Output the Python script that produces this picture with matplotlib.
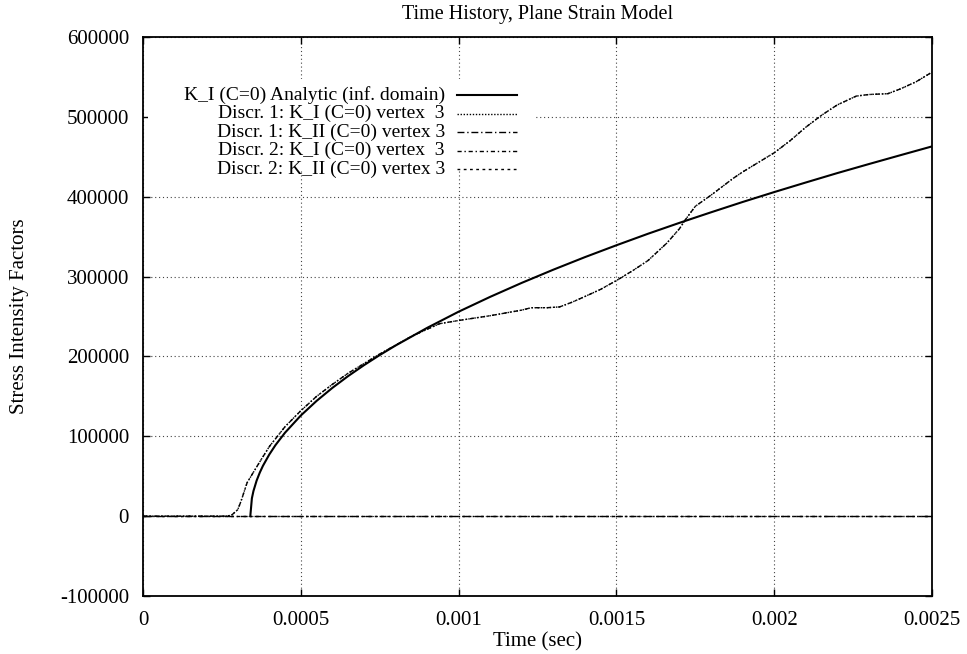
import matplotlib
matplotlib.use('Agg')
from matplotlib import pyplot as plt
from matplotlib.patches import Rectangle

# analytic K_I (inf. domain)
t_analytic = [0.00034, 0.000345, 0.00035, 0.00036, 0.00037, 0.00038, 0.0004, 0.00042,
              0.00045, 0.0005, 0.00055, 0.0006, 0.00065, 0.0007, 0.00075,
              0.0008, 0.0009, 0.001, 0.0011, 0.0012, 0.0013, 0.0014, 0.0015,
              0.0016, 0.0017, 0.0018, 0.0019, 0.002, 0.0021, 0.0022, 0.0023,
              0.0024, 0.0025]
k_analytic = [0, 22300, 31500, 44500, 54500, 63000, 77100, 89100,
              104500, 126000, 144300, 160600, 175400, 189000, 201700,
              213600, 235700, 256000, 274600, 292100, 308600, 324300, 339200,
              353600, 367300, 380500, 393400, 405800, 417800, 429600, 440900,
              452000, 463000]

# numerical K_I (discr. 1 and 2 overlap)
t_num = [0.0, 0.0002, 0.00026, 0.00028, 0.0003, 0.00031, 0.00032, 0.00033,
         0.00035, 0.00037, 0.0004, 0.00045, 0.0005, 0.00055, 0.0006, 0.00065,
         0.0007, 0.00075, 0.0008, 0.00085, 0.0009, 0.00094, 0.001, 0.0011,
         0.0012, 0.00123, 0.00128, 0.00132, 0.00136, 0.0014, 0.00145, 0.0015,
         0.00155, 0.0016, 0.00163, 0.00166, 0.0017, 0.00172, 0.00175, 0.0018,
         0.00187, 0.0019, 0.00195, 0.002, 0.00205, 0.0021, 0.00215, 0.0022,
         0.00226, 0.0023, 0.00236, 0.0024, 0.00245, 0.0025]
k1_num = [0, 0, 0, 1000, 8000, 18000, 30000, 42000,
          55000, 68000, 87000, 112000, 132000, 150000, 165000, 179000,
          191000, 203000, 214000, 225000, 234000, 241000, 245000, 251000,
          258000, 261000, 261000, 262000, 268000, 275000, 284000, 295000,
          307000, 320000, 331000, 342000, 360000, 372000, 388000, 402000,
          423000, 431000, 443000, 455000, 470000, 487000, 502000, 515000,
          526000, 528000, 529000, 535000, 544000, 556000]
k2_num = [0] * len(t_num)

labels = ['K_I (C=0) Analytic (inf. domain)',
          'Discr. 1: K_I (C=0) vertex  3',
          'Discr. 1: K_II (C=0) vertex 3',
          'Discr. 2: K_I (C=0) vertex  3',
          'Discr. 2: K_II (C=0) vertex 3']
styles = [dict(ls='-', lw=1.5),
          dict(ls=(0, (1, 1.2)), lw=1.0),
          dict(ls=(0, (5, 2, 1, 2)), lw=1.0),
          dict(ls=(0, (3, 2, 1, 2)), lw=1.0),
          dict(ls=(0, (2, 2.5)), lw=1.0)]

plt.rcParams['font.family'] = ['Liberation Serif', 'DejaVu Serif']
plt.rcParams['font.size'] = 15

fig = plt.figure(figsize=(9.67, 6.54), dpi=100)
ax = fig.add_axes([143 / 967, 1 - 596 / 654, (932 - 143) / 967, (596 - 37) / 654])

series = [(t_analytic, k_analytic), (t_num, k1_num), (t_num, k2_num),
          (t_num, k1_num), (t_num, k2_num)]
for (x, y), st in zip(series, styles):
    ax.plot(x, y, color='black', zorder=3, **st)

ax.set_xlim(0, 0.0025)
ax.set_ylim(-100000, 600000)
xticks = [0, 0.0005, 0.001, 0.0015, 0.002, 0.0025]
ax.set_xticks(xticks)
ax.set_xticklabels(['%g' % v for v in xticks])
yticks = list(range(-100000, 600001, 100000))
ax.set_yticks(yticks)
ax.set_yticklabels([str(v) for v in yticks])
ax.tick_params(direction='in', length=5, width=1, top=True, right=True,
               pad=10)
ax.tick_params(axis='x', pad=10.5)
ax.grid(True, color='#444444', ls=(0, (1, 2.5)), lw=0.8)
for s in ax.spines.values():
    s.set_linewidth(1.3)

ax.set_title('Time History, Plane Strain Model', fontsize=14.5, pad=13)
ax.set_xlabel('Time (sec)', labelpad=2)
ax.set_ylabel('Stress Intensity Factors', labelpad=22)

# gnuplot-style key: text right aligned, sample on the right
ax.add_patch(Rectangle((0.006, 0.76), 0.49, 0.165, transform=ax.transAxes,
                       facecolor='white', edgecolor='none', zorder=2))
y0 = (596 - 95) / 559
dy = 18.5 / 559
for i, (lab, st) in enumerate(zip(labels, styles)):
    yy = y0 - i * dy
    ax.text((445 - 143) / 789, yy, lab, transform=ax.transAxes,
            ha='right', va='center', fontsize=14, zorder=4)
    ax.plot([(457 - 143) / 789, (517 - 143) / 789], [yy, yy],
            transform=ax.transAxes, color='black', clip_on=False, zorder=4, **st)

fig.savefig('out.png', dpi=100)
